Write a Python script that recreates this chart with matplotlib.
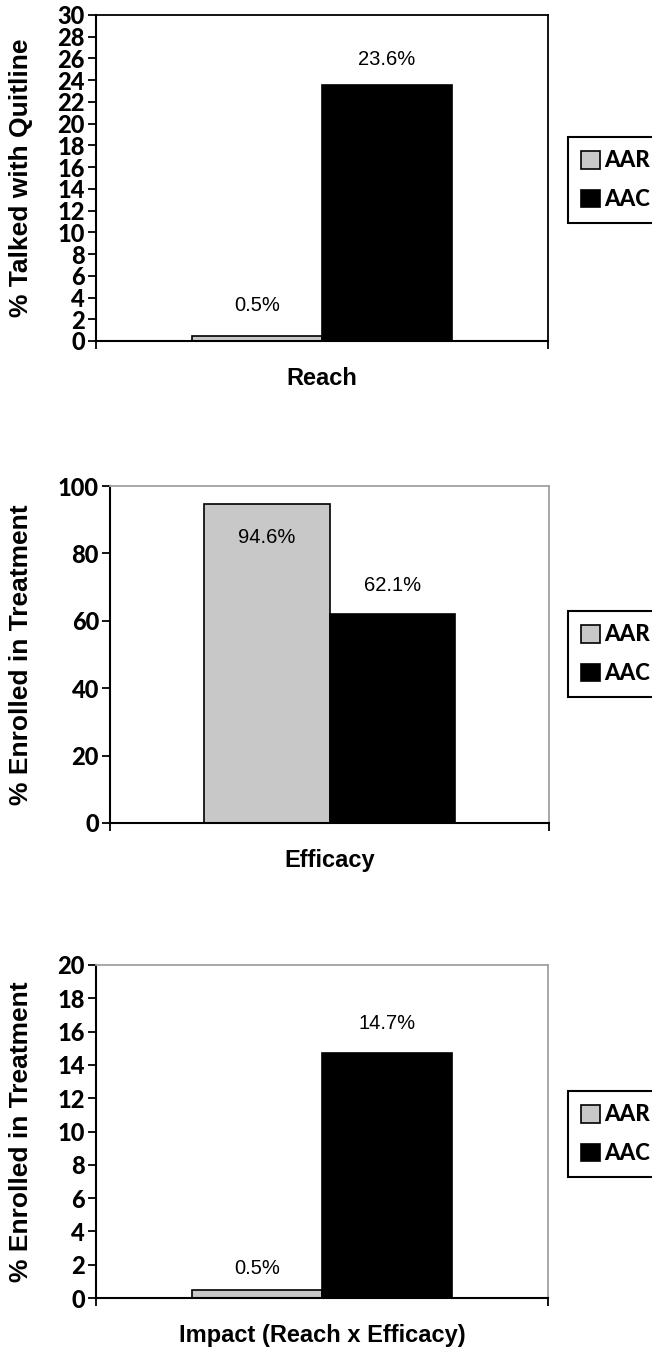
import matplotlib
matplotlib.use("Agg")
import matplotlib.pyplot as plt
import numpy as np

# values
panels = ["Reach", "Efficacy", "Impact (Reach x Efficacy)"]
ylabels = ["% Talked with Quitline", "% Enrolled in Treatment", "% Enrolled in Treatment"]
groups = ["AAR", "AAC"]
aar = [0.5, 94.6, 0.5]
aac = [23.6, 62.1, 14.7]
ymax = [30, 100, 20]
ystep = [2, 20, 2]

W, H = 652, 1355
fig = plt.figure(figsize=(W / 100, H / 100), dpi=100)

# axes boxes in pixels: left, top, right, bottom
boxes = [(96, 15, 548, 341), (110, 486, 549, 823), (96, 965, 548, 1298)]
legend_tops = [137, 611, 1091]
frame_color = ["black", "#a0a0a0", "#a0a0a0"]
# label offsets in points (positive = above bar top)
label_off = [(22, 18), (-24, 20), (15, 21.5)]

colors = ["#c8c8c8", "black"]
bw = 0.287

for i in range(3):
    l, t, r, b = boxes[i]
    ax = fig.add_axes([l / W, 1 - b / H, (r - l) / W, (b - t) / H])
    vals = [aar[i], aac[i]]
    xs = [-bw / 2, bw / 2]
    bars = ax.bar(xs, vals, width=bw, color=colors, edgecolor="black", linewidth=1.2)
    for k in range(2):
        bars[k].set_label(groups[k])
        ax.annotate(f"{vals[k]}%", xy=(xs[k], vals[k]), xytext=(0, label_off[i][k]),
                    textcoords="offset points", ha="center", va="center",
                    fontsize=14.5, family="Liberation Sans")

    ax.set_xlim(-0.5, 0.5)
    ax.set_ylim(0, ymax[i])
    ax.set_yticks(np.arange(0, ymax[i] + 1, ystep[i]))
    ax.set_xticks([-0.5, 0.5])
    ax.set_xticklabels([])
    ax.tick_params(axis="y", direction="out", length=6, width=1.3, pad=2,
                   labelsize=17)
    ax.tick_params(axis="x", direction="out", length=6, width=1.3)
    for lab in ax.get_yticklabels():
        lab.set_family("Lato")
        lab.set_fontweight("black")

    for s in ["left", "bottom"]:
        ax.spines[s].set_color("black")
        ax.spines[s].set_linewidth(1.5)
    for s in ["top", "right"]:
        ax.spines[s].set_color(frame_color[i])
        ax.spines[s].set_linewidth(1.3)

    ax.set_xlabel(panels[i], fontsize=17, fontweight="bold", family="Liberation Sans")
    ax.xaxis.set_label_coords(0.5, -26 / (b - t))
    ax.set_ylabel(ylabels[i], fontsize=19, fontweight="bold", family="Liberation Sans")
    ax.yaxis.set_label_coords((33 - l) / (r - l), 0.5)

    leg = ax.legend(loc="upper left", bbox_to_anchor=(568 / W, 1 - legend_tops[i] / H),
                    bbox_transform=fig.transFigure, borderaxespad=0, fancybox=False,
                    edgecolor="black", framealpha=1, handlelength=0.85, handleheight=0.85,
                    handletextpad=0.2, labelspacing=0.8, borderpad=0.6,
                    prop={"family": "Lato", "weight": "black", "size": 16})
    leg.get_frame().set_linewidth(1.5)

fig.savefig("out.png", dpi=100)
